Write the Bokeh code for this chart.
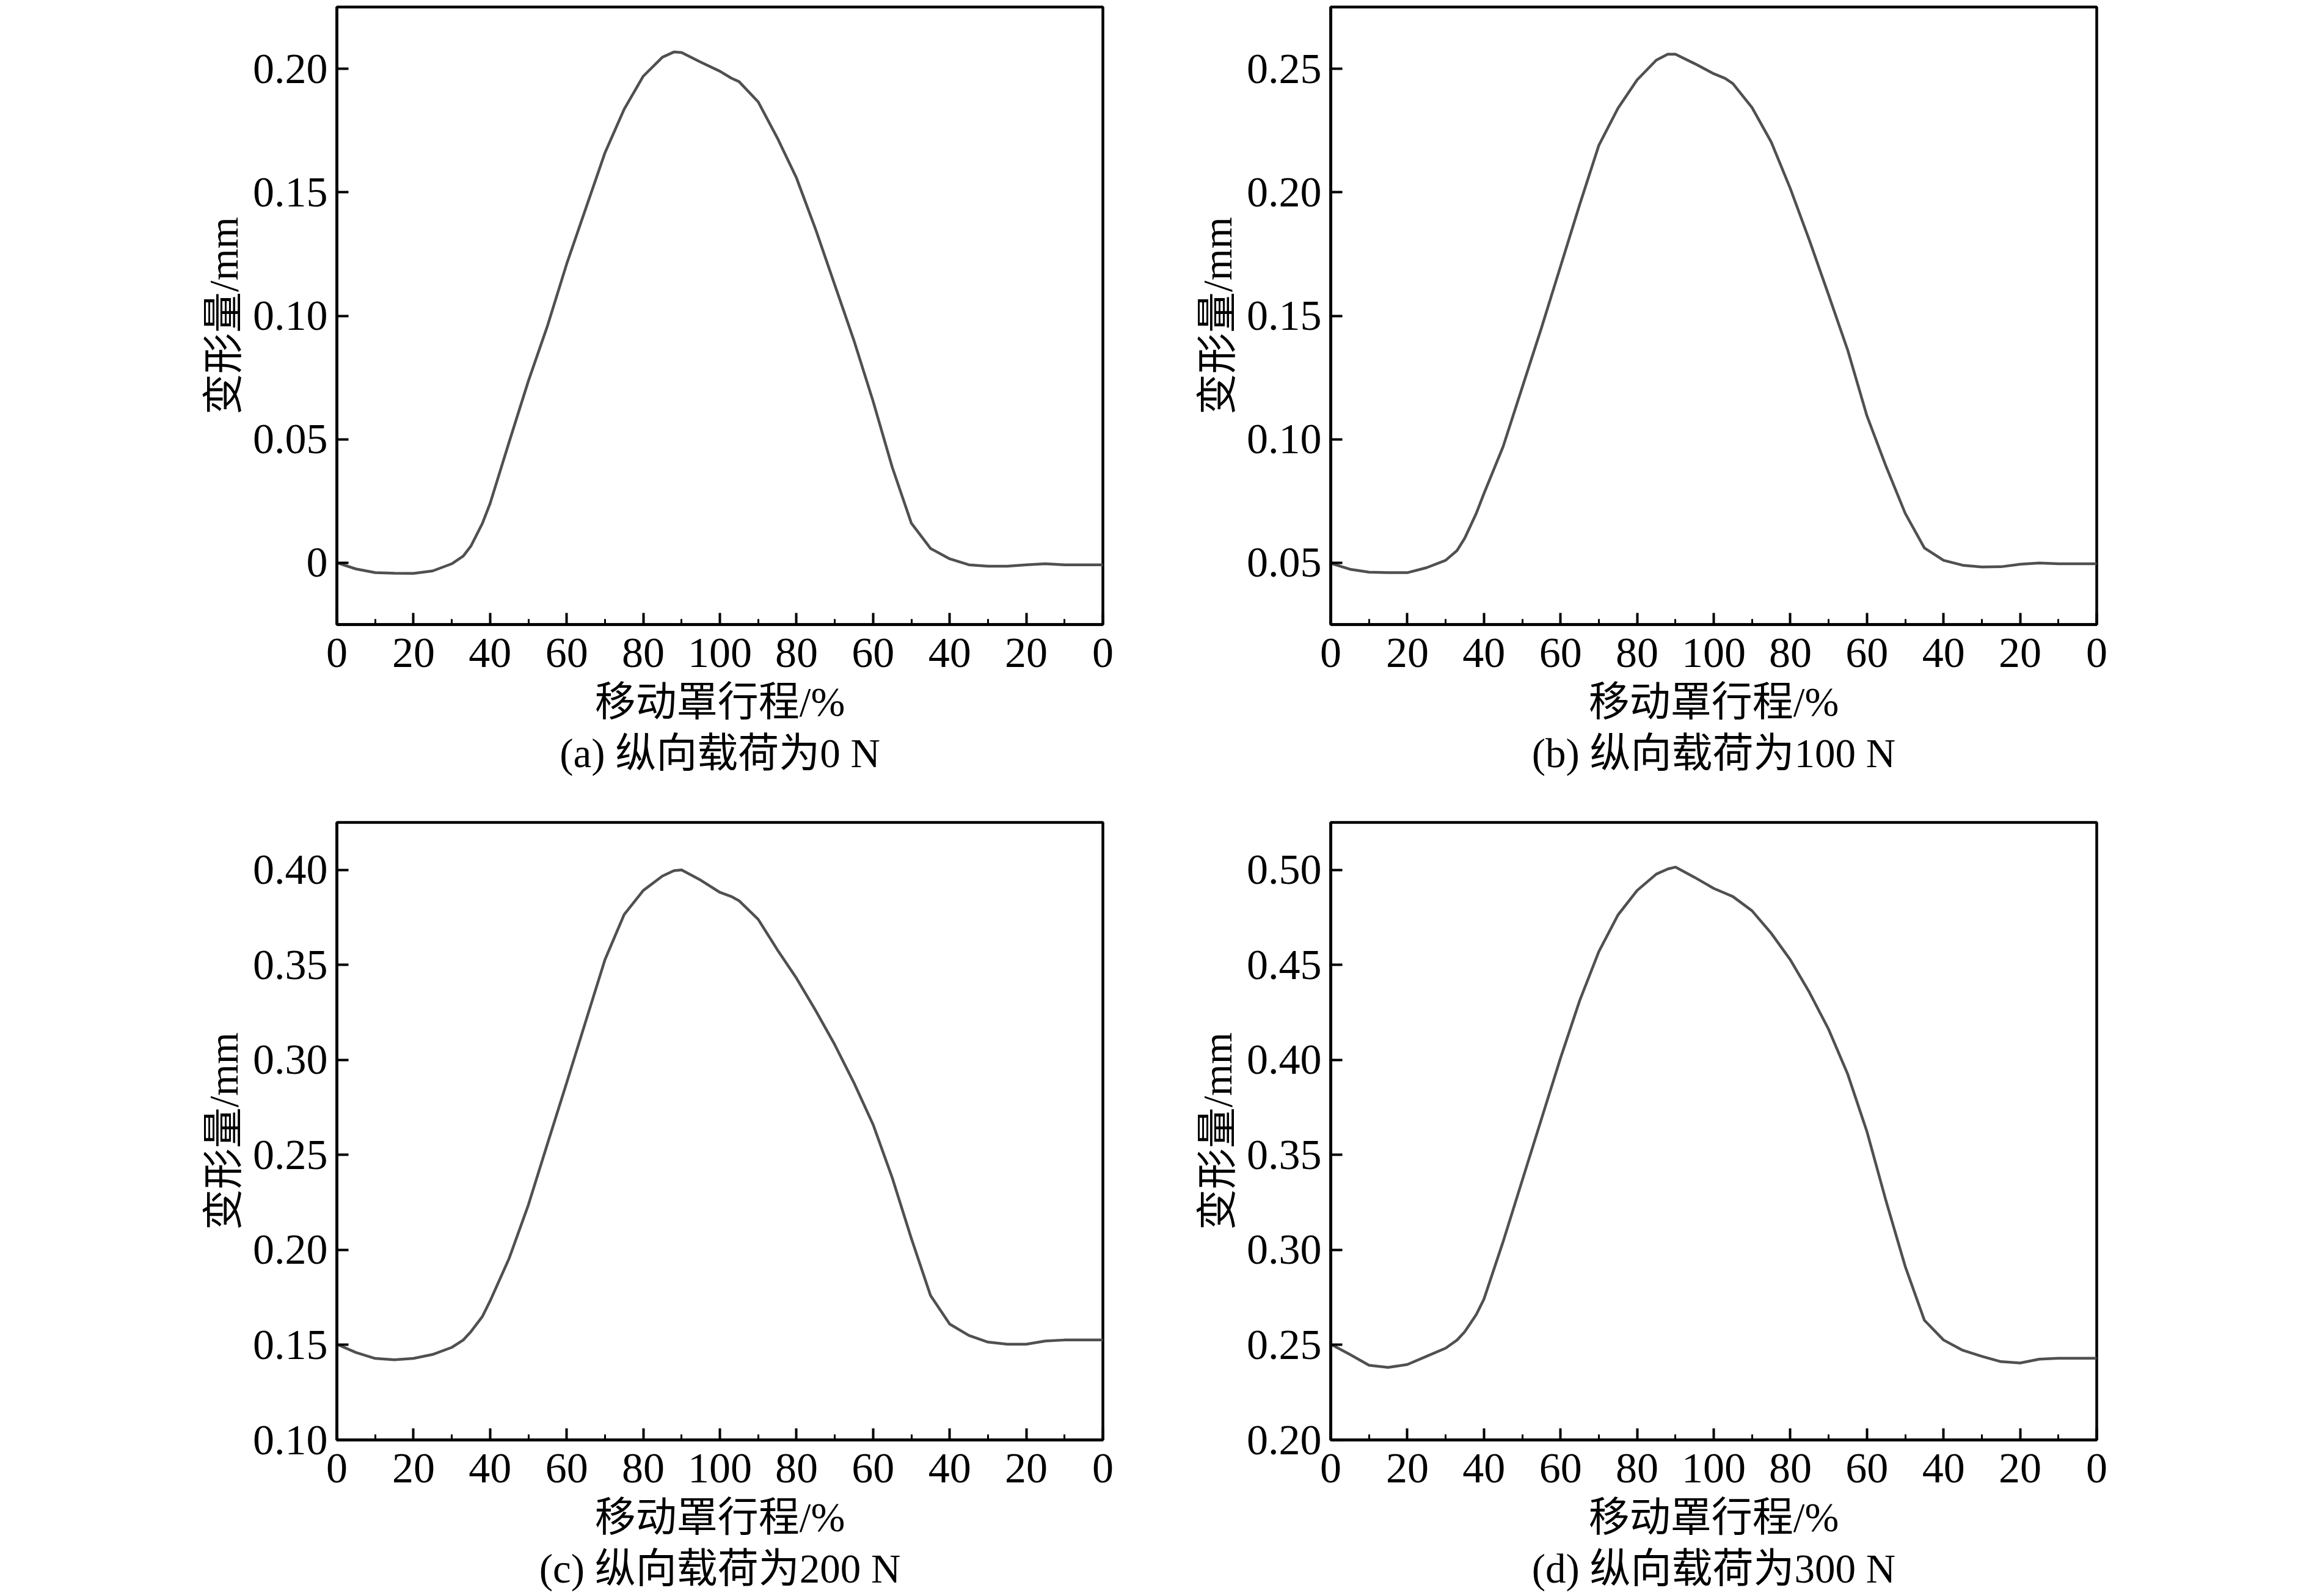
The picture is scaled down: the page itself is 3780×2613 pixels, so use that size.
from bokeh.plotting import figure
from bokeh.models import FixedTicker, Range1d, Title, NumeralTickFormatter
from bokeh.layouts import column, row
from bokeh.embed import file_html
from bokeh.resources import INLINE

# ---------------- data ----------------
# position along the stroke (0 -> 100 % -> 0), plotted as 0..200
stroke_pos = [0, 5, 10, 15, 20, 25, 30, 33, 35, 38, 40, 45, 50, 55, 60, 65, 70, 75, 80, 85,
              88, 90, 95, 100, 103, 105, 110, 115, 120, 125, 130, 135, 140, 145, 150, 155,
              160, 165, 170, 175, 180, 185, 190, 195, 200]

deform_0N = [0.0, -0.0025, -0.004, -0.0042, -0.0043, -0.0033, -0.0004, 0.0027, 0.0068, 0.016,
             0.024, 0.049, 0.0736, 0.096, 0.121, 0.1435, 0.166, 0.1836, 0.197, 0.2047,
             0.2068, 0.2066, 0.2027, 0.199, 0.1962, 0.1948, 0.1866, 0.172, 0.1558, 0.135,
             0.1125, 0.09, 0.0654, 0.0387, 0.016, 0.0058, 0.0016, -0.0008, -0.0014, -0.0014,
             -0.0008, -0.0004, -0.0008, -0.0008, -0.0008]

deform_100N = [0.0498, 0.0474, 0.0462, 0.046, 0.046, 0.048, 0.051, 0.055, 0.060, 0.070,
               0.078, 0.097, 0.121, 0.145, 0.170, 0.195, 0.219, 0.234, 0.2455, 0.2535,
               0.2559, 0.2559, 0.2521, 0.248, 0.2461, 0.244, 0.2343, 0.2204, 0.2015, 0.1805,
               0.1584, 0.136, 0.1095, 0.089, 0.0700, 0.0560, 0.051, 0.049, 0.0483, 0.0484,
               0.0494, 0.0499, 0.0496, 0.0496, 0.0496]

deform_200N = [0.1504, 0.146, 0.1429, 0.1422, 0.1429, 0.145, 0.1487, 0.1526, 0.157, 0.165,
               0.1731, 0.1957, 0.2237, 0.256, 0.288, 0.3205, 0.3528, 0.3765, 0.3892, 0.3968,
               0.3996, 0.400, 0.3946, 0.3882, 0.386, 0.3838, 0.374, 0.358, 0.343, 0.326,
               0.308, 0.288, 0.266, 0.238, 0.206, 0.176, 0.161, 0.155, 0.1515, 0.1504,
               0.1504, 0.1521, 0.1526, 0.1526, 0.1526]

deform_300N = [0.2504, 0.245, 0.2393, 0.2382, 0.2397, 0.244, 0.2483, 0.2526, 0.257, 0.266,
               0.2741, 0.3043, 0.3366, 0.3688, 0.401, 0.4312, 0.457, 0.4763, 0.4892, 0.4978,
               0.5005, 0.5015, 0.4961, 0.4903, 0.4877, 0.486, 0.4785, 0.4667, 0.4527, 0.4355,
               0.4161, 0.3924, 0.3623, 0.3257, 0.2913, 0.2630, 0.2526, 0.2472, 0.244, 0.2412,
               0.2405, 0.2425, 0.243, 0.243, 0.243]

x_ticks = [0, 20, 40, 60, 80, 100, 120, 140, 160, 180, 200]
x_tick_labels = ["0", "20", "40", "60", "80", "100", "80", "60", "40", "20", "0"]
x_minor_ticks = [10, 30, 50, 70, 90, 110, 130, 150, 170, 190]

y_ticks_a = [0, 0.05, 0.10, 0.15, 0.20]
y_ticks_b = [0.05, 0.10, 0.15, 0.20, 0.25]
y_ticks_c = [0.10, 0.15, 0.20, 0.25, 0.30, 0.35, 0.40]
y_ticks_d = [0.20, 0.25, 0.30, 0.35, 0.40, 0.45, 0.50]

y_ranges = [(-0.025, 0.225), (0.025, 0.275), (0.10, 0.425), (0.20, 0.525)]

captions = ["(a) 纵向载荷为0 N", "(b) 纵向载荷为100 N",
            "(c) 纵向载荷为200 N", "(d) 纵向载荷为300 N"]
x_title = "移动罩行程/%"
y_title = "变形量/mm"

# ---------------- styling ----------------
FONT = "Liberation Serif, Noto Sans CJK SC"
TICK_SIZE = "70px"
LABEL_SIZE = "67px"
FRAME_W, FRAME_H = 1254, 1011
LW = 4.5


def make_panel(ys, yticks, yr, cap, borders, zero_label=False):
    left, right, top, bottom = borders
    p = figure(frame_width=FRAME_W, frame_height=FRAME_H,
               min_border_left=left, min_border_right=right,
               min_border_top=top, min_border_bottom=bottom,
               x_range=Range1d(0, 200), y_range=Range1d(*yr),
               output_backend="svg", toolbar_location=None)
    p.background_fill_color = "white"
    p.border_fill_color = "white"
    p.xgrid.visible = False
    p.ygrid.visible = False
    p.outline_line_color = "black"
    p.outline_line_width = LW
    p.outline_line_alpha = 1.0

    p.line(stroke_pos, ys, line_color="#505050", line_width=4.5)

    xa = p.xaxis[0]
    xa.ticker = FixedTicker(ticks=x_ticks, minor_ticks=x_minor_ticks)
    xa.major_label_overrides = {t: l for t, l in zip(x_ticks, x_tick_labels)}
    ya = p.yaxis[0]
    ya.ticker = FixedTicker(ticks=yticks, minor_ticks=[])
    ya.formatter = NumeralTickFormatter(format="0.00")
    if zero_label:
        ya.major_label_overrides = {0: "0"}

    for ax in (xa, ya):
        ax.axis_line_color = "black"
        ax.axis_line_width = LW
        ax.major_tick_line_color = "black"
        ax.major_tick_line_width = 4
        ax.minor_tick_line_color = "black"
        ax.minor_tick_line_width = 3
        ax.major_tick_in = 19
        ax.major_tick_out = 0
        ax.minor_tick_in = 9
        ax.minor_tick_out = 0
        ax.major_label_text_font = FONT
        ax.major_label_text_font_size = TICK_SIZE
        ax.major_label_text_color = "black"
        ax.axis_label_text_font = FONT
        ax.axis_label_text_font_size = LABEL_SIZE
        ax.axis_label_text_font_style = "normal"
        ax.axis_label_text_color = "black"
    xa.axis_label = x_title
    ya.axis_label = y_title
    xa.major_label_standoff = 23
    xa.axis_label_standoff = 17
    ya.major_label_standoff = 15
    ya.axis_label_standoff = 8

    cap_t = Title(text=cap, align="center", text_font=FONT, text_font_size=LABEL_SIZE,
                  text_font_style="normal", text_color="black", standoff=11, offset=0)
    p.add_layout(cap_t, "below")
    return p


pa = make_panel(deform_0N, y_ticks_a, y_ranges[0], captions[0], (551, 77, 11, 276), zero_label=True)
pb = make_panel(deform_100N, y_ticks_b, y_ranges[1], captions[1], (296, 332, 11, 276))
pc = make_panel(deform_200N, y_ticks_c, y_ranges[2], captions[2], (551, 77, 48, 240))
pd = make_panel(deform_300N, y_ticks_d, y_ranges[3], captions[3], (296, 332, 48, 240))

layout = column(row(pa, pb), row(pc, pd))
open("out.html", "w").write(file_html(layout, INLINE))
